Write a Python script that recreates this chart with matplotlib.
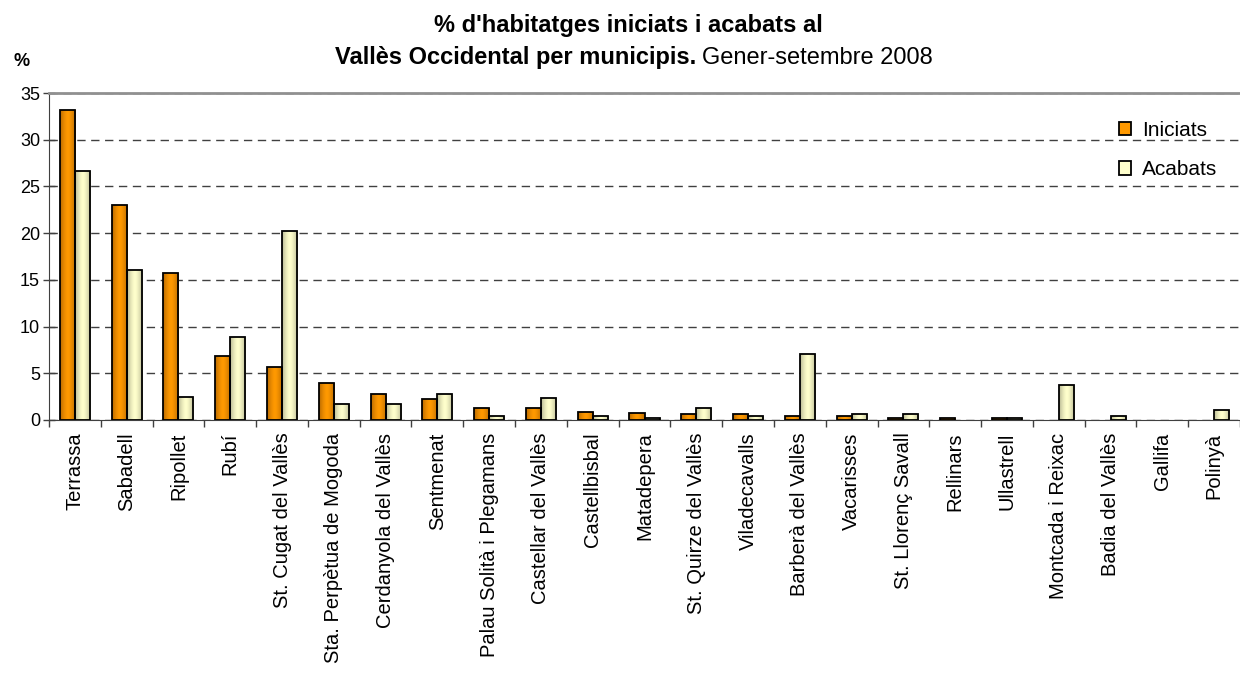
import numpy as np
import matplotlib
matplotlib.use('Agg')
import matplotlib.pyplot as plt
from matplotlib.colors import LinearSegmentedColormap

plt.rcParams['font.family'] = ['Liberation Sans', 'DejaVu Sans']

municipis = ['Terrassa', 'Sabadell', 'Ripollet', 'Rubí', 'St. Cugat del Vallès',
             'Sta. Perpètua de Mogoda', 'Cerdanyola del Vallès', 'Sentmenat',
             'Palau Solità i Plegamans', 'Castellar del Vallès', 'Castellbisbal',
             'Matadepera', 'St. Quirze del Vallès', 'Viladecavalls', 'Barberà del Vallès',
             'Vacarisses', 'St. Llorenç Savall', 'Rellinars', 'Ullastrell',
             'Montcada i Reixac', 'Badia del Vallès', 'Gallifa', 'Polinyà']
iniciats = [33.2, 23.0, 15.7, 6.9, 5.7, 4.0, 2.8, 2.2, 1.3, 1.3, 0.9, 0.8, 0.6,
            0.6, 0.4, 0.4, 0.2, 0.2, 0.2, 0.0, 0.0, 0.0, 0.0]
acabats = [26.6, 16.1, 2.5, 8.9, 20.2, 1.7, 1.7, 2.8, 0.4, 2.4, 0.4, 0.2, 1.3,
           0.4, 7.1, 0.6, 0.6, 0.0, 0.2, 3.7, 0.4, 0.0, 1.1]

W, H = 1240, 675
fig = plt.figure(figsize=(12.4, 6.75), dpi=100)
ax = fig.add_axes([49 / W, 1 - 420 / H, 1 - 49 / W, (420 - 93) / H])

x = np.arange(len(municipis))
w = 0.29
b1 = ax.bar(x - w / 2, iniciats, w, color='#FF9900', edgecolor='black', linewidth=1.3,
            label='Iniciats', zorder=3)
b2 = ax.bar(x + w / 2, acabats, w, color='#FFFFCC', edgecolor='black', linewidth=1.3,
            label='Acabats', zorder=3)

# shaded fill like the original (darker at the sides)
g = np.abs(np.linspace(-1, 1, 64)) ** 1.5
g = g.reshape(1, -1)
cm_or = LinearSegmentedColormap.from_list('o', ['#FF9900', '#B86A00'])
cm_ye = LinearSegmentedColormap.from_list('y', ['#FFFFCC', '#B8B894'])
for bars, cm in ((b1, cm_or), (b2, cm_ye)):
    for r in bars:
        if r.get_height() <= 0:
            r.set_linewidth(0)
            continue
        x0, y0 = r.get_x(), r.get_y()
        im = ax.imshow(g, cmap=cm, aspect='auto', zorder=3.5,
                       extent=(x0, x0 + r.get_width(), y0, y0 + r.get_height()))
        im.set_clip_path(r)
        r.set_facecolor('none')
        r.set_zorder(4)

ax.set_xlim(-0.5, len(municipis) - 0.5)
ax.set_ylim(0, 35)
ax.set_yticks(range(0, 36, 5))
ax.yaxis.grid(True, linestyle=(0, (6, 4)), color='#404040', linewidth=1.0, zorder=0)
ax.set_xticks(x)
ax.set_xticklabels(municipis, rotation=90, fontsize=14.5)
ax.set_xticks(np.arange(-0.5, len(municipis), 1), minor=True)
ax.tick_params(axis='x', which='major', length=0, pad=9)
ax.tick_params(axis='x', which='minor', length=5, width=1, color='#404040')
ax.tick_params(axis='y', direction='inout', length=9, width=1, color='#404040',
               labelsize=13, pad=2)

ax.spines['right'].set_visible(False)
ax.spines['top'].set_color('#909090')
ax.spines['top'].set_linewidth(2)
ax.spines['left'].set_color('#404040')
ax.spines['bottom'].set_color('#404040')

leg = ax.legend(loc='center left', bbox_to_anchor=(1100 / W, 1 - 150 / H),
                bbox_transform=fig.transFigure, frameon=False,
                fontsize=15, handlelength=0.6, handleheight=0.6, labelspacing=1.0,
                handletextpad=0.5)
leg.legend_handles[0].set_facecolor('#FF9900')
leg.legend_handles[1].set_facecolor('#FFFFCC')

fig.text(628 / W, 1 - 32 / H, "% d'habitatges iniciats i acabats al", ha='center',
         va='baseline', fontsize=17, fontweight='bold')
t1 = fig.text(0, 1 - 64 / H, 'Vallès Occidental per municipis.', ha='left',
              va='baseline', fontsize=17, fontweight='bold')
t2 = fig.text(0, 1 - 64 / H, 'Gener-setembre 2008', ha='left', va='baseline',
              fontsize=17)
fig.canvas.draw()
w1 = t1.get_window_extent().width
w2 = t2.get_window_extent().width
gap = 6
start = 634 - (w1 + gap + w2) / 2
t1.set_x(start / W)
t2.set_x((start + w1 + gap) / W)
fig.text(14 / W, 1 - 66 / H, '%', va='baseline', fontsize=13, fontweight='bold')

fig.savefig('out.png', dpi=100)
